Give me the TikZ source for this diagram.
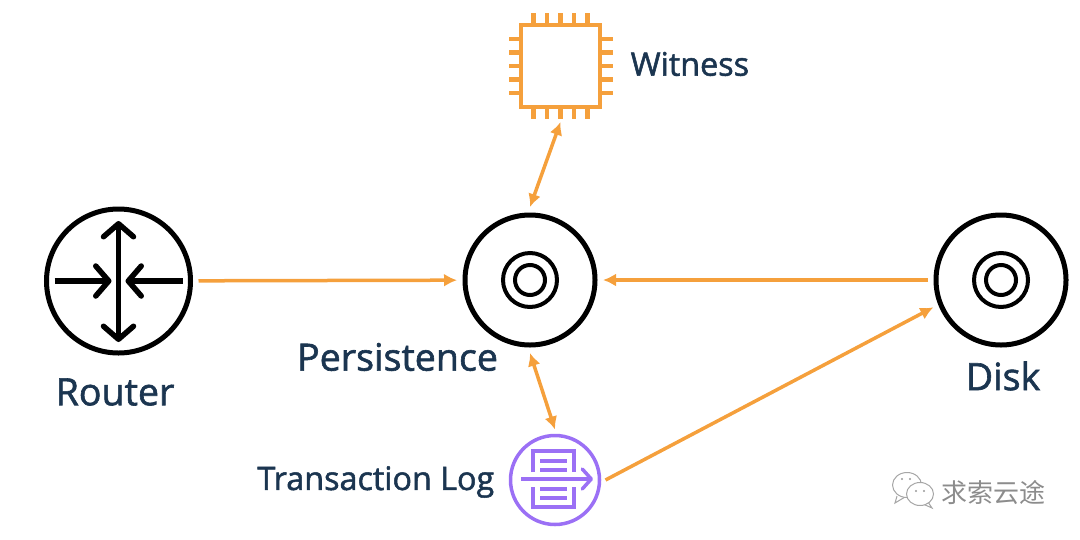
\documentclass[tikz,border=0pt]{standalone}
\usepackage{fontspec}
\setmainfont[FakeBold=1.6]{Open Sans}
\newfontfamily\cjkfont{Noto Sans CJK SC}
\usetikzlibrary{arrows.meta}
\definecolor{flowcolor}{HTML}{F5A03C}
\definecolor{logcolor}{HTML}{9B70F5}
\definecolor{textcolor}{HTML}{1B3550}
\tikzset{
    flow/.style={draw=flowcolor, line width=0.035cm, -{Latex[length=0.13cm,width=0.13cm]}},
    twoway/.style={flow, {Latex[length=0.13cm,width=0.13cm]}-{Latex[length=0.13cm,width=0.13cm]}},
    disc/.style={circle, draw=black, line width=0.05cm, minimum size=1.3cm, inner sep=0pt, outer sep=0.08cm},
    inring/.style={draw=black, line width=0.04cm},
    rarrow/.style={draw=black, line width=0.055cm, -{Straight Barb[length=0.13cm,width=0.3cm,round]}},
    bigtext/.style={text=textcolor, font=\fontsize{10.7}{12}\selectfont, inner sep=0pt},
    smalltext/.style={text=textcolor, font=\fontsize{9.2}{11}\selectfont, inner sep=0pt},
    logline/.style={draw=logcolor, line width=0.035cm},
    pin/.style={draw=flowcolor, line width=0.045cm},
    markline/.style={draw=black!35, line width=0.01cm, fill=white},
}
\begin{document}
\begin{tikzpicture}
    \useasboundingbox (0,0) rectangle (10.8,5.39);
    % main nodes
    \node[disc, minimum size=1.44cm] (router) at (1.185,2.58) {};
    \node[disc] (persistence) at (5.30,2.59) {};
    \node[disc] (disk) at (10.01,2.59) {};
    \node[rectangle, draw=flowcolor, line width=0.04cm, minimum width=0.79cm, minimum height=0.82cm, inner sep=0pt, outer sep=0.15cm] (witness) at (5.605,4.73) {};
    \node[circle, draw=logcolor, line width=0.035cm, minimum size=0.89cm, inner sep=0pt, outer sep=0.06cm] (log) at (5.55,0.59) {};
    % labels
    \node[bigtext, anchor=center] (routerlabel) at (1.15,1.47) {Router};
    \node[bigtext, anchor=center] (persistencelabel) at (3.975,1.82) {Persistence};
    \node[bigtext, anchor=center] (disklabel) at (10.03,1.63) {Disk};
    \node[smalltext, anchor=west] (witnesslabel) at (6.30,4.75) {Witness};
    \node[smalltext, anchor=east] (loglabel) at (4.95,0.57) {Transaction Log};
    % connectors
    \draw[flow] (router) -- (persistence);
    \draw[flow] (disk) -- (persistence);
    \draw[twoway] (witness.south) -- (persistence.north);
    \draw[twoway] (persistence.south) -- (log.north);
    \draw[flow] (log.east) -- (disk.202);
    % router arrows
    \begin{scope}[shift={(router.center)}]
        \draw[rarrow, {Straight Barb[length=0.13cm,width=0.3cm,round]}-{Straight Barb[length=0.13cm,width=0.3cm,round]}] (0,0.6) -- (0,-0.61);
        \draw[rarrow] (-0.64,0) -- (-0.07,0);
        \draw[rarrow] (0.64,0) -- (0.07,0);
    \end{scope}
    % disc rings
    \foreach \name in {persistence,disk} {
        \draw[inring] (\name.center) circle (0.27);
        \draw[inring] (\name.center) circle (0.15);
    }
    % chip pins
    \begin{scope}[shift={(witness.center)}]
        \foreach \p in {-0.27,-0.135,0,0.135,0.27} {
            \draw[pin] (\p,0.41) -- (\p,0.53);
            \draw[pin] (\p,-0.41) -- (\p,-0.53);
            \draw[pin] (-0.395,\p) -- (-0.52,\p);
            \draw[pin] (0.395,\p) -- (0.52,\p);
        }
    \end{scope}
    % log icon
    \begin{scope}[shift={(log.center)}]
        \draw[logline] (-0.22,0.08) -- (-0.22,0.29) -- (0.19,0.29) -- (0.19,0.08);
        \draw[logline] (-0.22,-0.07) -- (-0.22,-0.27) -- (0.19,-0.27) -- (0.19,-0.07);
        \draw[logline] (-0.15,0.19) -- (0.12,0.19);
        \draw[logline] (-0.15,0.10) -- (0.12,0.10);
        \draw[logline] (-0.15,-0.09) -- (0.12,-0.09);
        \draw[logline] (-0.15,-0.18) -- (0.12,-0.18);
        \draw[logline, -{Straight Barb[length=0.09cm,width=0.2cm,round]}] (-0.34,0.01) -- (0.38,0.01);
    \end{scope}
    % watermark
    \node[text=black!45, font=\cjkfont\fontsize{7.4}{9}\selectfont, inner sep=0pt] (mark) at (9.93,0.46) {求索云途};
    \draw[markline] (8.97,0.43) -- (8.95,0.36) -- (9.05,0.42);
    \draw[markline] (9.07,0.54) ellipse (0.145 and 0.125);
    \draw[markline] (9.28,0.37) -- (9.32,0.31) -- (9.23,0.35);
    \draw[markline] (9.20,0.45) ellipse (0.135 and 0.115);
    \foreach \e in {9.02,9.10} \fill[black!40] (\e,0.60) circle (0.012);
    \foreach \e in {9.16,9.24} \fill[black!40] (\e,0.48) circle (0.012);
\end{tikzpicture}
\end{document}
